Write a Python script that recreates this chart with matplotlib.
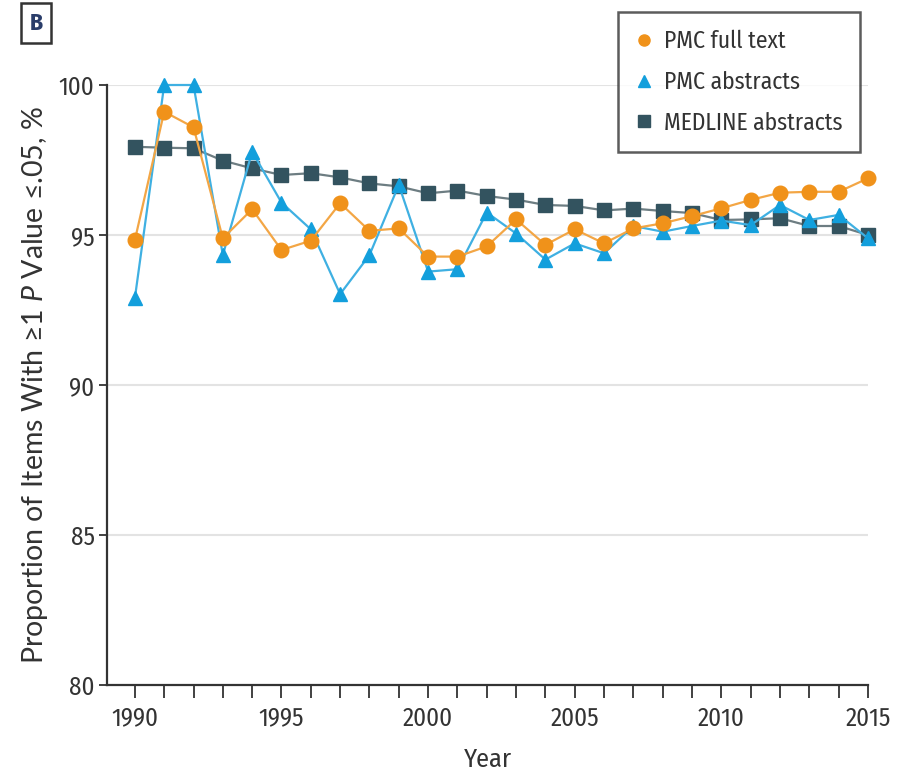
import matplotlib
matplotlib.use("Agg")
import matplotlib.pyplot as plt
from matplotlib.lines import Line2D

FAM = 'Fira Sans Condensed'
YFAM = 'Lato'
plt.rcParams['font.family'] = [FAM, 'DejaVu Sans']
plt.rcParams['mathtext.fontset'] = 'custom'
plt.rcParams['mathtext.it'] = YFAM + ':italic'
plt.rcParams['mathtext.rm'] = YFAM

years = list(range(1990, 2016))
pmc_full = [94.83, 99.11, 98.59, 94.89, 95.86, 94.5, 94.81, 96.06, 95.14, 95.22,
            94.28, 94.28, 94.62, 95.52, 94.67, 95.19, 94.72, 95.22, 95.39, 95.63,
            95.89, 96.17, 96.41, 96.44, 96.44, 96.89]
pmc_abs = [92.89, 100.0, 100.0, 94.33, 97.78, 96.08, 95.19, 93.03, 94.33, 96.67,
           93.78, 93.86, 95.75, 95.05, 94.18, 94.72, 94.39, 95.3, 95.11, 95.3,
           95.48, 95.33, 96.0, 95.5, 95.67, 94.89]
medline = [97.94, 97.91, 97.89, 97.48, 97.22, 97.0, 97.06, 96.92, 96.72, 96.62,
           96.39, 96.48, 96.3, 96.18, 96.0, 95.97, 95.82, 95.88, 95.8, 95.73,
           95.5, 95.52, 95.56, 95.3, 95.3, 95.0]
series_labels = ['PMC full text', 'PMC abstracts', 'MEDLINE abstracts']
yticks = [80, 85, 90, 95, 100]
xticks = [1990, 1995, 2000, 2005, 2010, 2015]

ORANGE = '#f0921a'
ORANGE_L = '#f3a645'
BLUE = '#139fdc'
BLUE_L = '#3fb0e2'
SLATE = '#33535f'
SLATE_L = '#6d7d82'
TXT = '#333333'

fig = plt.figure(figsize=(9.07, 7.72), dpi=100)
ax = fig.add_axes([107/907, 1-685/772, (868-107)/907, (685-85)/772])

ax.plot(years, medline, color=SLATE_L, lw=1.6, marker='s', ms=10.5,
        mfc=SLATE, mec=SLATE, clip_on=False, zorder=3)
ax.plot(years, pmc_abs, color=BLUE_L, lw=1.6, marker='^', ms=10.5,
        mfc=BLUE, mec=BLUE, clip_on=False, zorder=4)
ax.plot(years, pmc_full, color=ORANGE_L, lw=1.6, marker='o', ms=10.5,
        mfc=ORANGE, mec=ORANGE, clip_on=False, zorder=5)

ax.set_xlim(1989.05, 2015)
ax.set_ylim(80, 100)
ax.set_yticks(yticks)
ax.set_xticks(years)
ax.set_xticklabels([str(y) if y in xticks else '' for y in years])
for y in yticks[1:]:
    ax.axhline(y, color='#e3e3e3', lw=1.5, zorder=1)

for s in ['top', 'right']:
    ax.spines[s].set_visible(False)
for s in ['left', 'bottom']:
    ax.spines[s].set_color('#333333')
    ax.spines[s].set_linewidth(1.6)
ax.tick_params(axis='both', direction='out', color='#333333', width=1.3,
               labelsize=18, labelcolor=TXT)
ax.tick_params(axis='x', length=9, pad=6)
ax.tick_params(axis='y', length=6, pad=3)

ax.set_xlabel('Year', fontsize=19, color=TXT, labelpad=12)
ax.set_ylabel(r'Proportion of Items With ≥1 $\it{P}$ Value ≤.05, %',
              fontsize=20.5, color=TXT, labelpad=6, family=[YFAM, 'DejaVu Sans'])

handles = [Line2D([], [], ls='', marker='o', ms=8, color=ORANGE),
           Line2D([], [], ls='', marker='^', ms=8, color=BLUE),
           Line2D([], [], ls='', marker='s', ms=8, color=SLATE)]
leg = fig.legend(handles, series_labels, loc='upper left',
                 bbox_to_anchor=(618/907, 1-12/772), borderaxespad=0,
                 fontsize=17, frameon=True, fancybox=False, handlelength=0.7,
                 handletextpad=0.5, borderpad=0.75, labelspacing=0.75,
                 labelcolor=TXT)
leg.get_frame().set_edgecolor('#333333')
leg.get_frame().set_linewidth(1.8)

fig.text(36/907, 1-23/772, 'B', fontsize=17, color='#2a3d6a', fontweight='bold',
         ha='center', va='center',
         bbox=dict(boxstyle='square,pad=0.35', fc='white', ec='#333333', lw=1.8))

fig.savefig('out.png', dpi=100)
